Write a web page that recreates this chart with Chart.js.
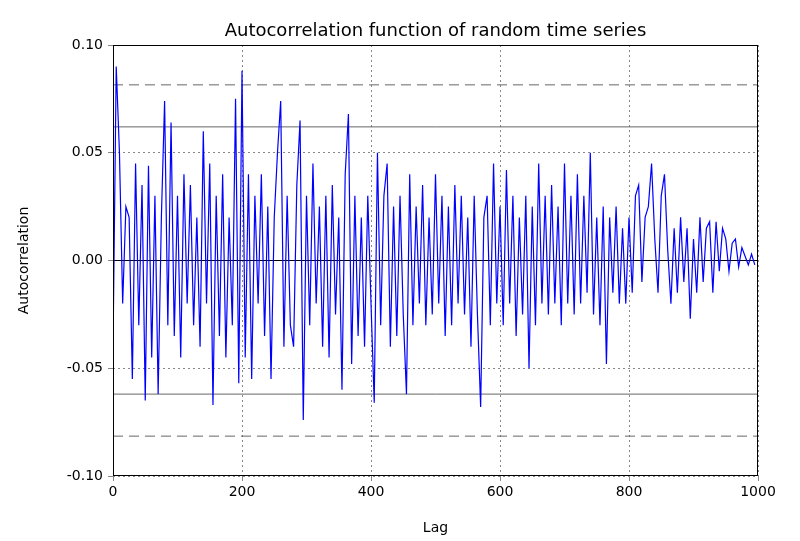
<!DOCTYPE html>
<html><head><meta charset="utf-8">
<script src="https://cdn.jsdelivr.net/npm/chart.js@4"></script>
<style>html,body{margin:0;padding:0;background:#fff}#w{width:800px;height:541px}</style>
</head><body><div id="w"><canvas id="c"></canvas></div>
<script>
const titleText = "Autocorrelation function of random time series";
const xLabel = "Lag", yLabel = "Autocorrelation";
const lagStep = 5;
const acf = [
-0.041,0.09,0.05,-0.02,0.025,0.02,-0.055,0.045,-0.03,0.035,
-0.065,0.044,-0.045,0.03,-0.062,0.02,0.074,-0.03,0.064,-0.035,
0.03,-0.045,0.04,-0.02,0.035,-0.03,0.02,-0.04,0.06,-0.02,
0.045,-0.067,0.03,-0.035,0.04,-0.045,0.02,-0.03,0.075,-0.057,
0.088,-0.045,0.04,-0.055,0.03,-0.02,0.04,-0.035,0.025,-0.055,
0.02,0.05,0.074,-0.04,0.03,-0.03,-0.04,0.035,0.065,-0.074,
0.03,-0.03,0.045,-0.02,0.025,-0.04,0.03,-0.045,0.035,-0.025,
0.02,-0.06,0.04,0.068,-0.048,0.03,-0.035,0.02,-0.04,0.03,
-0.02,-0.066,0.05,-0.03,0.03,0.045,-0.04,0.025,-0.035,0.03,
-0.025,-0.062,0.04,-0.03,0.025,-0.02,0.035,-0.03,0.02,-0.025,
0.04,-0.02,0.03,-0.035,0.025,-0.03,0.035,-0.02,0.03,-0.025,
0.02,-0.04,0.03,-0.025,-0.068,0.02,0.03,-0.03,0.045,-0.02,
0.025,-0.03,0.042,-0.02,0.03,-0.035,0.02,-0.025,0.03,-0.05,
0.025,-0.03,0.045,-0.02,0.03,-0.025,0.035,-0.02,0.025,-0.03,
0.045,-0.02,0.03,-0.025,0.04,-0.02,0.03,-0.015,0.05,-0.025,
0.02,-0.03,0.025,-0.048,0.02,-0.015,0.025,-0.02,0.015,-0.02,
0.02,-0.015,0.03,0.035,-0.01,0.02,0.025,0.045,0.01,-0.015,
0.03,0.04,0.005,-0.02,0.015,-0.015,0.02,-0.01,0.015,-0.027,
0.01,-0.015,0.02,-0.01,0.015,0.018,-0.015,0.018,-0.005,0.015,
0.01,-0.005,0.008,0.01,-0.003,0.006,0.002,-0.002,0.003,-0.002];
const lags = acf.map((_, i) => i * lagStep);
const conf95 = 0.062, conf99 = 0.0815;
const xTicks = [0,200,400,600,800,1000];
const yTicks = [-0.10,-0.05,0.00,0.05,0.10];

const hline = (v, dash) => ({data:[{x:0,y:v},{x:1000,y:v}], borderColor:'#666', borderWidth:1, borderDash: dash?[10,6]:[], pointRadius:0});
const titlePlugin = {id:'t', afterDraw(ch){const c=ch.ctx;c.save();c.font='18px "DejaVu Sans"';c.fillStyle='#000';c.textAlign='center';c.textBaseline='bottom';c.fillText(titleText,(ch.chartArea.left+ch.chartArea.right)/2,ch.chartArea.top-5);
c.strokeStyle='#000';c.lineWidth=1;const a=ch.chartArea;c.strokeRect(a.left+0.5,a.top+0.5,a.right-a.left-1,a.bottom-a.top-1);c.restore();}};
new Chart(document.getElementById('c'), {
  type:'line',
  data:{datasets:[
    {data:lags.map((l,i)=>({x:l,y:acf[i]})), borderColor:'#0000ff', borderWidth:1.2, pointRadius:0, tension:0},
    hline(conf95,false), hline(-conf95,false), hline(conf99,true), hline(-conf99,true),
    {data:[{x:0,y:0},{x:1000,y:0}], borderColor:'#000', borderWidth:1, pointRadius:0}
  ]},
  options:{responsive:true, maintainAspectRatio:false, animation:false,
    layout:{padding:{top:45,right:42,left:12,bottom:0}},
    plugins:{legend:{display:false}, tooltip:{enabled:false}},
    scales:{
      x:{type:'linear', min:0, max:1000, afterBuildTicks:s=>{s.ticks=xTicks.map(v=>({value:v}))},
        afterFit:s=>{s.height=65},
        grid:{color:'#888', tickLength:5}, border:{display:false, dash:[2,3]},
        ticks:{color:'#000', font:{size:14, family:'DejaVu Sans'}, padding:3, maxRotation:0, callback:v=>String(v)},
        title:{display:true, text:xLabel, color:'#000', font:{size:14, family:'DejaVu Sans'}, padding:{top:4}}},
      y:{min:-0.1, max:0.1, afterBuildTicks:s=>{s.ticks=yTicks.map(v=>({value:v}))},
        afterFit:s=>{s.width=101},
        grid:{color:'#888', tickLength:5}, border:{display:false, dash:[2,3]},
        ticks:{color:'#000', font:{size:14, family:'DejaVu Sans'}, padding:5, callback:v=>v.toFixed(2)},
        title:{display:true, text:yLabel, color:'#000', font:{size:14, family:'DejaVu Sans'}, padding:{bottom:6}}}
    }},
  plugins:[titlePlugin]
});
</script></body></html>
